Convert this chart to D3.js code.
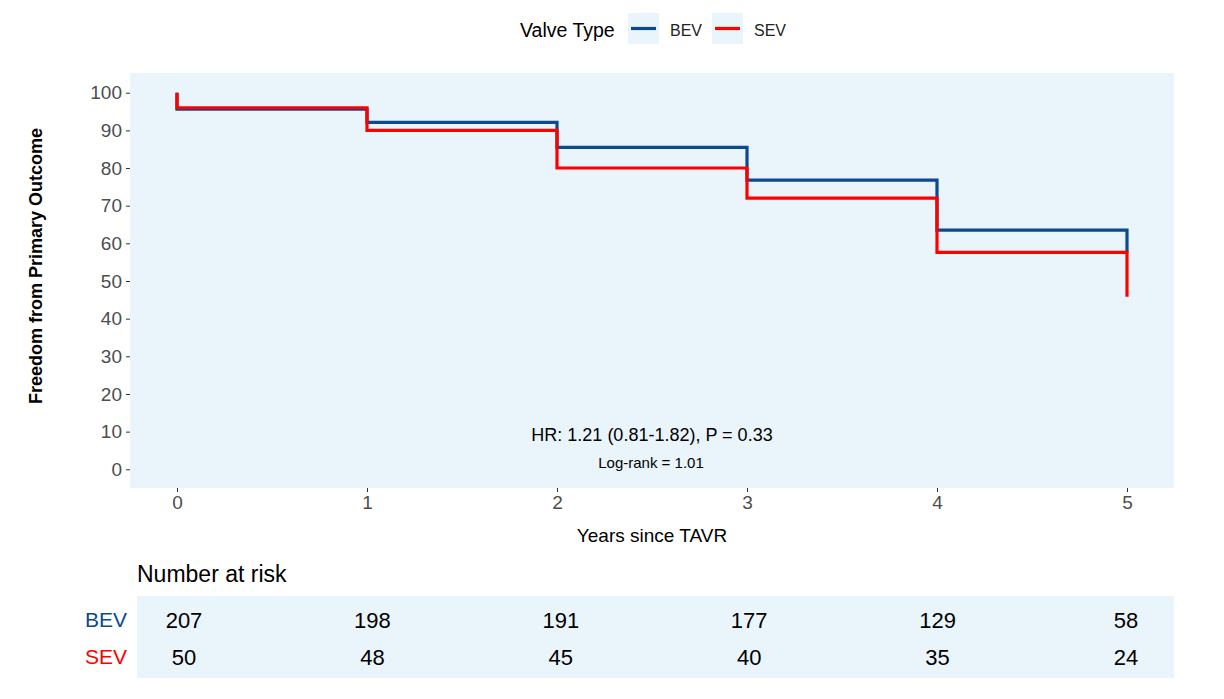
<!DOCTYPE html>
<html>
<head>
<meta charset="utf-8">
<script src="https://cdn.jsdelivr.net/npm/d3@7"></script>
<style>
  body { margin: 0; background: #fff; }
  text { font-family: "Liberation Sans", Arial, sans-serif; }
</style>
</head>
<body>
<div id="chart"></div>
<script>
// data
const groups = ["BEV", "SEV"];
const groupColors = ["#0B4A8E", "#FF0000"];
const bevSteps = [[0, 100], [0, 95.6], [1, 92.1], [2, 85.5], [3, 76.8], [4, 63.5], [5, 57.6]];
const sevSteps = [[0, 100], [0, 96], [1, 90], [2, 80], [3, 72], [4, 57.6], [5, 45.8]];
const xTicks = [0, 1, 2, 3, 4, 5];
const yTicks = [0, 10, 20, 30, 40, 50, 60, 70, 80, 90, 100];
const bevRisk = [207, 198, 191, 177, 129, 58];
const sevRisk = [50, 48, 45, 40, 35, 24];

const width = 1224, height = 699;
const bg = "#EAF4FB";

const svg = d3.select("#chart").append("svg")
    .attr("width", width)
    .attr("height", height);

// main panel
const panel = { left: 130, right: 1174, top: 73, bottom: 488 };
svg.append("rect")
    .attr("x", panel.left).attr("y", panel.top)
    .attr("width", panel.right - panel.left)
    .attr("height", panel.bottom - panel.top)
    .attr("fill", bg);

const x = d3.scaleLinear().domain([0, 5]).range([177, 1127]);
const y = d3.scaleLinear().domain([0, 100]).range([469.3, 92.7]);

// axes
const yAxis = svg.append("g")
    .attr("transform", `translate(${panel.left}, 0)`)
    .call(d3.axisLeft(y).tickValues(yTicks).tickSize(4).tickPadding(4));
yAxis.select(".domain").remove();
yAxis.selectAll("line").attr("stroke", "#333");
yAxis.selectAll("text").style("font-size", "19px").attr("fill", "#4D4D4D");

const xAxis = svg.append("g")
    .attr("transform", `translate(0, ${panel.bottom})`)
    .call(d3.axisBottom(x).tickValues(xTicks).tickFormat(d3.format("d")).tickSize(4).tickPadding(4));
xAxis.select(".domain").remove();
xAxis.selectAll("line").attr("stroke", "#333");
xAxis.selectAll("text").style("font-size", "19px").attr("fill", "#4D4D4D");

svg.append("text")
    .attr("x", 652).attr("y", 542)
    .attr("text-anchor", "middle")
    .style("font-size", "19px")
    .text("Years since TAVR");

svg.append("text")
    .attr("transform", "translate(42, 266) rotate(-90)")
    .attr("text-anchor", "middle")
    .style("font-size", "18px")
    .style("font-weight", "bold")
    .text("Freedom from Primary Outcome");

// curves
const line = d3.line()
    .x(d => x(d[0]))
    .y(d => y(d[1]))
    .curve(d3.curveStepAfter);

[bevSteps, sevSteps].forEach((steps, i) => {
    svg.append("path")
        .datum(steps)
        .attr("d", line)
        .attr("fill", "none")
        .attr("stroke", groupColors[i])
        .attr("stroke-width", 3.2);
});

// annotations
svg.append("text")
    .attr("x", 652).attr("y", 441)
    .attr("text-anchor", "middle")
    .style("font-size", "18px")
    .text("HR: 1.21 (0.81-1.82), P = 0.33");
svg.append("text")
    .attr("x", 651).attr("y", 468)
    .attr("text-anchor", "middle")
    .style("font-size", "15px")
    .text("Log-rank = 1.01");

// legend
svg.append("text")
    .attr("x", 520).attr("y", 37)
    .style("font-size", "19.5px")
    .text("Valve Type");
const legendX = [628, 712];
groups.forEach((g, i) => {
    svg.append("rect")
        .attr("x", legendX[i]).attr("y", 13)
        .attr("width", 31).attr("height", 31)
        .attr("fill", bg);
    svg.append("line")
        .attr("x1", legendX[i] + 3).attr("x2", legendX[i] + 28)
        .attr("y1", 28.5).attr("y2", 28.5)
        .attr("stroke", groupColors[i])
        .attr("stroke-width", 3.2);
    svg.append("text")
        .attr("x", legendX[i] + 42).attr("y", 36)
        .style("font-size", "16px")
        .attr("fill", "#222")
        .text(g);
});

// risk table
svg.append("text")
    .attr("x", 137).attr("y", 582)
    .style("font-size", "23px")
    .text("Number at risk");
svg.append("rect")
    .attr("x", 137).attr("y", 596)
    .attr("width", 1174 - 137).attr("height", 82)
    .attr("fill", bg);

const xr = d3.scaleLinear().domain([0, 5]).range([184, 1126]);
const rowY = d3.scalePoint().domain(groups).range([620, 657]);

[bevRisk, sevRisk].forEach((vals, i) => {
    svg.append("text")
        .attr("x", 127).attr("y", rowY(groups[i]))
        .attr("text-anchor", "end")
        .attr("dy", "0.35em")
        .style("font-size", "21px")
        .attr("fill", groupColors[i])
        .text(groups[i]);
    svg.selectAll(null)
        .data(vals)
        .enter()
        .append("text")
        .attr("x", (d, j) => xr(xTicks[j]))
        .attr("y", rowY(groups[i]))
        .attr("dy", "0.35em")
        .attr("text-anchor", "middle")
        .style("font-size", "22px")
        .text(d => d);
});
</script>
</body>
</html>
